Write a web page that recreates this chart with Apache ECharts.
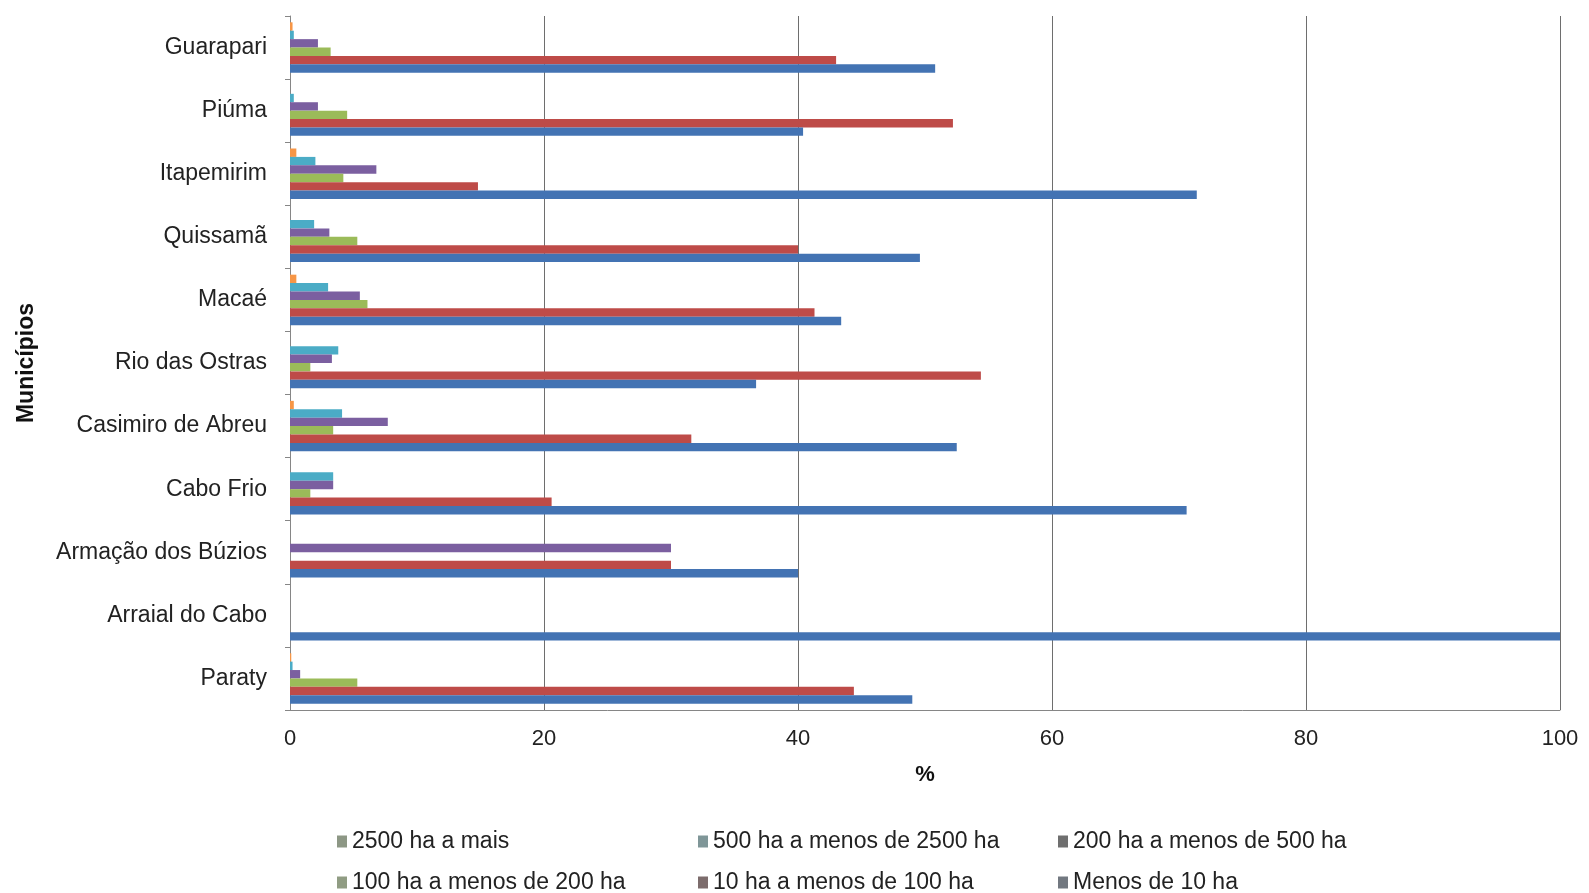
<!DOCTYPE html>
<html><head><meta charset="utf-8">
<script src="https://cdn.jsdelivr.net/npm/echarts@6/dist/echarts.min.js"></script>
<style>html,body{margin:0;padding:0;background:#fff}#c{width:1589px;height:893px}</style>
</head><body><div id="c"></div>
<script>
// Categories, bottom to top
const municipios = ['Paraty','Arraial do Cabo','Armação dos Búzios','Cabo Frio','Casimiro de Abreu','Rio das Ostras','Macaé','Quissamã','Itapemirim','Piúma','Guarapari'];
const seriesNames = ['2500 ha a mais','500 ha a menos de 2500 ha','200 ha a menos de 500 ha','100 ha a menos de 200 ha','10 ha a menos de 100 ha','Menos de 10 ha'];
const ha2500mais   = [0.1, 0, 0, 0, 0.3, 0, 0.5, 0, 0.5, 0, 0.2];
const ha500a2500   = [0.2, 0, 0, 3.4, 4.1, 3.8, 3.0, 1.9, 2.0, 0.3, 0.3];
const ha200a500    = [0.8, 0, 30, 3.4, 7.7, 3.3, 5.5, 3.1, 6.8, 2.2, 2.2];
const ha100a200    = [5.3, 0, 0, 1.6, 3.4, 1.6, 6.1, 5.3, 4.2, 4.5, 3.2];
const ha10a100     = [44.4, 0, 30, 20.6, 31.6, 54.4, 41.3, 40.0, 14.8, 52.2, 43.0];
const menos10      = [49.0, 100, 40, 70.6, 52.5, 36.7, 43.4, 49.6, 71.4, 40.4, 50.8];
const xTicks = [0, 20, 40, 60, 80, 100];

const values = [ha2500mais, ha500a2500, ha200a500, ha100a200, ha10a100, menos10];
const colors = ['#F79646','#4BACC6','#7B5FA0','#9BBB59','#BE4B48','#4373B3'];
const legendColors = ['#8d9785','#7f9698','#6f6f6f','#909c83','#7c6c6c','#727880'];
const FONT = '"Liberation Sans", Arial, sans-serif';

const chart = echarts.init(document.getElementById('c'));
const series = seriesNames.map((n, i) => ({
  name: n, type: 'bar', data: values[i],
  itemStyle: { color: colors[i] },
  barGap: '0%', barCategoryGap: '20%'
}));
const legendPos = [[337, 830], [698, 830], [1058, 830], [337, 871], [698, 871], [1058, 871]];
const legends = seriesNames.map((n, i) => ({
  orient: 'horizontal', left: legendPos[i][0], top: legendPos[i][1],
  itemWidth: 10, itemHeight: 12, icon: 'rect', padding: 0,
  textStyle: { fontFamily: FONT, fontSize: 23, color: '#222' },
  data: [{ name: n, itemStyle: { color: legendColors[i] } }]
}));
chart.setOption({
  animation: false,
  grid: { left: 290, right: 29, top: 16, height: 694, containLabel: false },
  legend: legends,
  xAxis: {
    type: 'value', min: xTicks[0], max: xTicks[xTicks.length-1], interval: 20,
    name: '%', nameLocation: 'middle', nameGap: 54,
    nameTextStyle: { fontFamily: FONT, fontSize: 22, fontWeight: 'bold', color: '#111' },
    axisLine: { show: true, lineStyle: { color: '#868686', width: 1 } },
    axisTick: { show: false },
    axisLabel: { fontFamily: FONT, fontSize: 22, color: '#222', margin: 18 },
    splitLine: { show: true, lineStyle: { color: '#6e6e6e', width: 1 } }
  },
  yAxis: {
    type: 'category', data: municipios,
    name: 'Municípios', nameLocation: 'middle', nameGap: 252, nameRotate: 90,
    nameTextStyle: { fontFamily: FONT, fontSize: 23, fontWeight: 'bold', color: '#111' },
    axisLine: { show: true, lineStyle: { color: '#868686', width: 1 } },
    axisTick: { show: true, length: 5, lineStyle: { color: '#868686' } },
    axisLabel: { fontFamily: FONT, fontSize: 23, color: '#222', margin: 23 }
  },
  series: series
});
</script></body></html>
